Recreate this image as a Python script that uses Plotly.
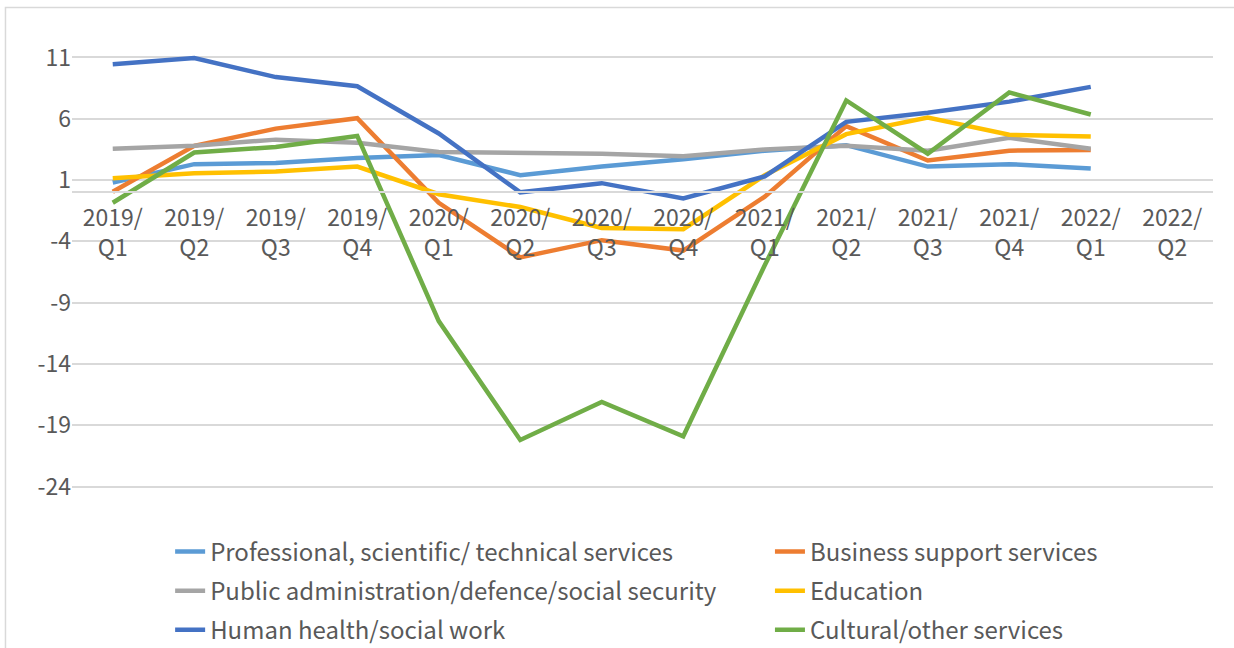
import plotly.graph_objects as go

# Quarterly periods on the category axis
quarters = ["2019/Q1", "2019/Q2", "2019/Q3", "2019/Q4",
            "2020/Q1", "2020/Q2", "2020/Q3", "2020/Q4",
            "2021/Q1", "2021/Q2", "2021/Q3", "2021/Q4",
            "2022/Q1", "2022/Q2"]

# Growth by sector (2022/Q2 not yet available)
professional = [0.8, 2.3, 2.4, 2.8, 3.05, 1.4, 2.1, 2.7, 3.4, 3.85, 2.1, 2.3, 1.95, None]
business = [0.05, 3.8, 5.2, 6.05, -0.85, -5.3, -3.9, -4.75, -0.35, 5.4, 2.6, 3.4, 3.45, None]
public_admin = [3.55, 3.8, 4.3, 4.05, 3.3, 3.25, 3.15, 2.95, 3.5, 3.8, 3.4, 4.45, 3.55, None]
education = [1.15, 1.55, 1.7, 2.1, -0.15, -1.2, -2.9, -3.0, 1.4, 4.75, 6.1, 4.7, 4.55, None]
health = [10.45, 10.95, 9.4, 8.65, 4.8, 0.0, 0.75, -0.5, 1.3, 5.75, 6.5, 7.4, 8.6, None]
cultural = [-0.85, 3.25, 3.7, 4.6, -10.5, -20.2, -17.1, -19.9, -5.95, 7.5, 3.15, 8.15, 6.35, None]

series_names = ["Professional, scientific/ technical services",
                "Business support services",
                "Public administration/defence/social security",
                "Education",
                "Human health/social work",
                "Cultural/other services"]
series_values = [professional, business, public_admin, education, health, cultural]
series_colors = ["#5B9BD5", "#ED7D31", "#A5A5A5", "#FFC000", "#4472C4", "#70AD47"]
# two legend columns: left column holds the 1st, 3rd, 5th series
series_legend = ["legend", "legend2", "legend", "legend2", "legend", "legend2"]

y_ticks = [-24, -19, -14, -9, -4, 1, 6, 11]
y_tick_labels = [str(v) for v in y_ticks]
x_tick_labels = [q.replace("/", "/<br>") for q in quarters]

FONT = "Noto Sans CJK SC"
TEXT = "#595959"
GRID = "#D9D9D9"
FS = 23
LEGEND_FS = 24

fig = go.Figure()
for i, (name, vals, col, lg) in enumerate(zip(series_names, series_values,
                                               series_colors, series_legend)):
    fig.add_trace(go.Scatter(
        x=quarters, y=vals, name=name, mode="lines",
        line=dict(color=col, width=4.5), connectgaps=False,
        legend=lg, legendgroup=f"g{i}",
    ))

# y range extends below the last gridline so the legends sit inside the plot area
y_lo, y_hi = -37.0, 14.71
x_axis_pos = (0 - y_lo) / (y_hi - y_lo)

legend_common = dict(
    orientation="v", xanchor="left", yanchor="top", y=0.184,
    tracegroupgap=5, bgcolor="rgba(0,0,0,0)",
    font=dict(family=FONT, color=TEXT, size=LEGEND_FS),
)

fig.update_layout(
    width=1234, height=648,
    margin=dict(l=72, r=21, t=12, b=2, autoexpand=False),
    paper_bgcolor="white", plot_bgcolor="white",
    font=dict(family=FONT, color=TEXT, size=FS),
    xaxis=dict(
        type="category", categoryorder="array", categoryarray=quarters,
        tickmode="array", tickvals=quarters, ticktext=x_tick_labels,
        range=[-0.5, len(quarters) - 0.5],
        anchor="free", position=x_axis_pos,
        showline=True, linecolor=GRID, linewidth=1.5,
        showgrid=False, ticks="", zeroline=False,
        ticklabelstandoff=5,
        tickfont=dict(family=FONT, color=TEXT, size=FS),
    ),
    yaxis=dict(
        range=[y_lo, y_hi], tickmode="array", tickvals=y_ticks,
        ticktext=y_tick_labels,
        showgrid=True, gridcolor=GRID, gridwidth=1.5,
        zeroline=False, showline=False, ticks="",
        tickfont=dict(family=FONT, color=TEXT, size=FS),
    ),
    legend=dict(x=0.086, **legend_common),
    legend2=dict(x=0.6117, **legend_common),
    showlegend=True,
    shapes=[dict(type="rect", xref="paper", yref="paper",
                 x0=-0.0583, x1=1.5, y0=-1, y1=1.0071,
                 line=dict(color=GRID, width=1.5), fillcolor="rgba(0,0,0,0)",
                 layer="below")],
)

fig.write_html("out.html")
